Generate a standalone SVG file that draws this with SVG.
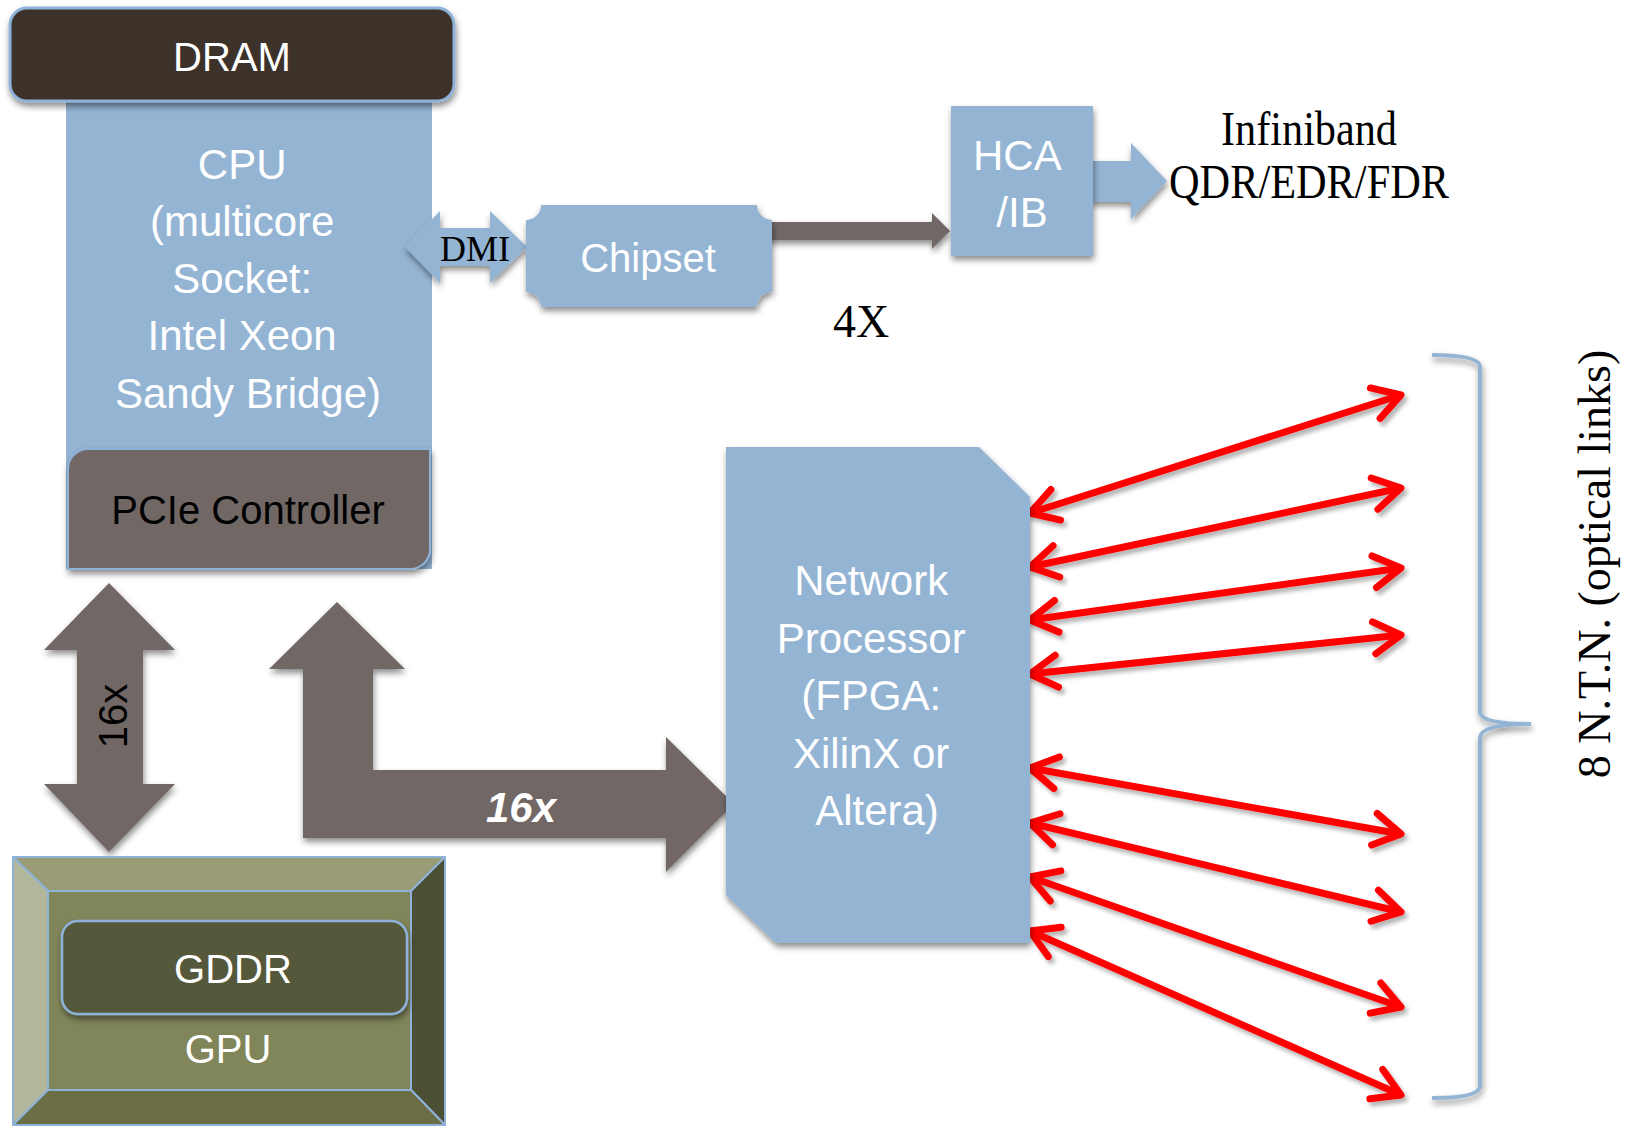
<svg xmlns="http://www.w3.org/2000/svg" width="1637" height="1129" viewBox="0 0 1637 1129">
<defs>
<style>
.sans{font-family:"Liberation Sans",Arial,sans-serif;}
.serif{font-family:"Liberation Serif","Times New Roman",serif;fill:#000;}
.wt{fill:#fff;}
.blue{fill:#94b4d4;}
.gray{fill:#716766;}
.red{stroke:#ff0000;stroke-width:7;fill:none;marker-start:url(#chev);marker-end:url(#chev);}
.bev{stroke:#8fb2d8;stroke-width:2;stroke-linejoin:round;}
</style>
<filter id="sh" x="-20%" y="-20%" width="140%" height="150%">
<feDropShadow dx="1" dy="4" stdDeviation="3" flood-color="#000" flood-opacity="0.45"/>
</filter>
<filter id="shr" x="-10%" y="-20%" width="120%" height="150%">
<feDropShadow dx="3" dy="4" stdDeviation="2" flood-color="#000" flood-opacity="0.3"/>
</filter>
<marker id="chev" markerUnits="userSpaceOnUse" viewBox="-40 -30 50 60" markerWidth="50" markerHeight="60" refX="0" refY="0" orient="auto-start-reverse" overflow="visible">
<path d="M -27,-16 L 0,0 L -27,16" fill="none" stroke="#ff0000" stroke-width="7" stroke-linecap="round" stroke-linejoin="round"/>
</marker>
</defs>
<rect width="1637" height="1129" fill="#fff"/>

<g id="cpu">
<rect x="66" y="90" width="366" height="479" class="blue"/>
<text class="sans wt" font-size="42" text-anchor="middle">
<tspan x="248" y="179">CPU</tspan>
<tspan x="248" y="236">(multicore</tspan>
<tspan x="248" y="293">Socket:</tspan>
<tspan x="248" y="350">Intel Xeon</tspan>
<tspan x="248" y="408">Sandy Bridge)</tspan>
</text>
</g>

<g id="pcie">
<path d="M 68,569 L 68,469 A 20 20 0 0 1 88,449 L 430,449 L 430,549 A 20 20 0 0 1 410,569 Z" class="gray" stroke="#8fb2d8" stroke-width="2" filter="url(#sh)"/>
<text x="248" y="524" class="sans" font-size="40" text-anchor="middle" fill="#000">PCIe Controller</text>
</g>

<g id="dram">
<rect x="10" y="8" width="444" height="93" rx="17" fill="#3c302c" stroke="#8fb2d8" stroke-width="3" filter="url(#sh)"/>
<text x="232" y="71" class="sans wt" font-size="40" text-anchor="middle">DRAM</text>
</g>

<g id="connectors">
<path id="dmi" d="M 405,247 L 440,211 L 440,228 L 490,228 L 490,211 L 527,247 L 490,283 L 490,266 L 440,266 L 440,283 Z" class="blue" filter="url(#sh)"/>
<text x="475" y="261" class="serif" font-size="36" text-anchor="middle">DMI</text>
<path id="chip-hca" d="M 760,222 L 932,222 L 932,213 L 950,231 L 932,249 L 932,240 L 760,240 Z" class="gray" filter="url(#sh)"/>
<path id="hca-ib" d="M 1090,161 L 1131,161 L 1131,143 L 1167,181 L 1131,219 L 1131,202 L 1090,202 Z" class="blue" filter="url(#sh)"/>
<path id="cpu-gpu" d="M 109,583 L 175,650 L 143,650 L 143,784 L 175,784 L 109,852 L 44,784 L 77,784 L 77,650 L 44,650 Z" class="gray" filter="url(#sh)"/>
<text transform="translate(127,716) rotate(-90)" class="sans" font-size="40" text-anchor="middle" fill="#000">16x</text>
<path id="cpu-np" d="M 337,602 L 405,669 L 373,669 L 373,770 L 666,770 L 666,737 L 734,804 L 666,872 L 666,838 L 303,838 L 303,669 L 269,669 Z" class="gray" filter="url(#sh)"/>
<text x="521" y="822" class="sans wt" font-size="42" font-weight="bold" font-style="italic" text-anchor="middle">16x</text>
<g filter="url(#shr)">
<line x1="1030" y1="513" x2="1401" y2="395" class="red"/>
<line x1="1030" y1="567" x2="1401" y2="488" class="red"/>
<line x1="1030" y1="620" x2="1401" y2="568" class="red"/>
<line x1="1030" y1="674" x2="1401" y2="635" class="red"/>
<line x1="1030" y1="768" x2="1401" y2="834" class="red"/>
<line x1="1030" y1="823" x2="1401" y2="912" class="red"/>
<line x1="1030" y1="877" x2="1401" y2="1007" class="red"/>
<line x1="1030" y1="931" x2="1401" y2="1095" class="red"/>
</g>
</g>

<g id="chipset">
<path d="M 541,205 L 757,205 A 15 15 0 0 0 772,220 L 772,292 A 15 15 0 0 0 757,307 L 541,307 A 15 15 0 0 0 526,292 L 526,220 A 15 15 0 0 0 541,205 Z" class="blue" filter="url(#sh)"/>
<text x="648" y="272" class="sans wt" font-size="40" text-anchor="middle">Chipset</text>
</g>

<g id="hca">
<rect x="951" y="106" width="142" height="150" class="blue" filter="url(#sh)"/>
<text class="sans wt" font-size="42" text-anchor="middle">
<tspan x="1022" y="170">HCA</tspan>
<tspan x="1022" y="227">/IB</tspan>
</text>
</g>

<g id="infiniband">
<text x="1309" y="145" class="serif" font-size="48" text-anchor="middle" textLength="176" lengthAdjust="spacingAndGlyphs">Infiniband</text>
<text x="1309" y="198" class="serif" font-size="48" text-anchor="middle" textLength="280" lengthAdjust="spacingAndGlyphs">QDR/EDR/FDR</text>
</g>

<g id="label-4x">
<text x="861" y="337" class="serif" font-size="46" text-anchor="middle">4X</text>
</g>

<g id="network-processor">
<path d="M 726,447 L 979,447 L 1030,497 L 1030,943 L 776,943 L 726,895 Z" class="blue" filter="url(#sh)"/>
<text class="sans wt" font-size="42" text-anchor="middle">
<tspan x="877" y="595">Network</tspan>
<tspan x="877" y="653">Processor</tspan>
<tspan x="877" y="710">(FPGA:</tspan>
<tspan x="877" y="768">XilinX or</tspan>
<tspan x="877" y="825">Altera)</tspan>
</text>
</g>

<g id="gpu">
<polygon points="13,857 445,857 411,891 48,891" fill="#9a9c76" class="bev"/>
<polygon points="13,857 48,891 48,1090 13,1125" fill="#b2b79b" class="bev"/>
<polygon points="445,857 445,1125 411,1090 411,891" fill="#4b5034" class="bev"/>
<polygon points="13,1125 48,1090 411,1090 445,1125" fill="#6b6e45" class="bev"/>
<rect x="48" y="891" width="363" height="199" fill="#81855a" class="bev"/>
<text x="228" y="1063" class="sans wt" font-size="40" text-anchor="middle">GPU</text>
</g>

<g id="gddr">
<rect x="62" y="921" width="345" height="93" rx="16" fill="#54593b" stroke="#8fb2d8" stroke-width="2.5" filter="url(#sh)"/>
<text x="233" y="983" class="sans wt" font-size="40" text-anchor="middle">GDDR</text>
</g>

<g id="brace">
<path d="M 1432,355 Q 1480,355 1480,367 L 1480,712 Q 1480,724 1531,724 Q 1480,724 1480,738 L 1480,1086 Q 1480,1098 1432,1098" fill="none" stroke="#94b4d4" stroke-width="4" filter="url(#sh)"/>
<text transform="translate(1610,564) rotate(-90)" class="serif" font-size="46" text-anchor="middle">8 N.T.N. (optical links)</text>
</g>
</svg>
